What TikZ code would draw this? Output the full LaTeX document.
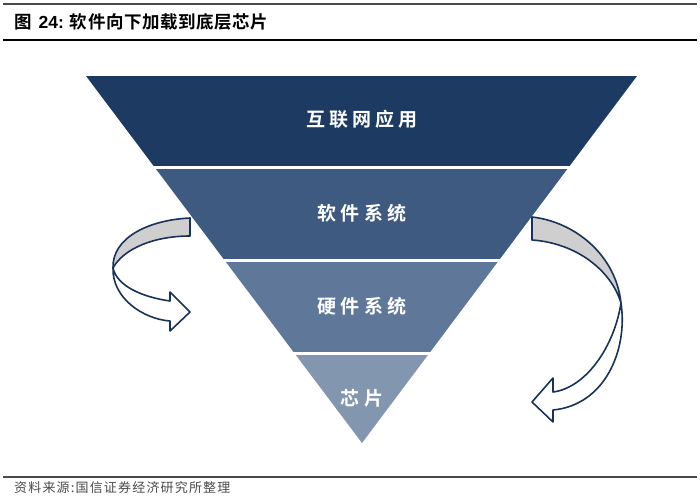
\documentclass[tikz,border=0pt]{standalone}
\usepackage{fontspec}
\newfontfamily\cjkb[LetterSpace=3]{Noto Sans CJK SC Bold}
\newfontfamily\cjkl[LetterSpace=22]{Noto Sans CJK SC Bold}
\newfontfamily\cjkf[LetterSpace=9]{Noto Sans CJK SC}
\newfontfamily\arialb{Liberation Sans Bold}
\definecolor{bandA}{HTML}{1C3A62}
\definecolor{bandB}{HTML}{3E5A80}
\definecolor{bandC}{HTML}{5F7798}
\definecolor{bandD}{HTML}{8396AF}
\definecolor{arrowline}{HTML}{17325B}
\definecolor{arrowgray}{HTML}{CFCFCF}
\definecolor{rulegray}{HTML}{4A4A4A}
\tikzset{
  bandlabel/.style={text=white, font=\cjkl\fontsize{19}{19}\selectfont, inner sep=0pt, anchor=center},
  arrowpart/.style={draw=arrowline, line width=1.6pt, line join=round},
  rulestyle/.style={line width=1.6pt}
}
\begin{document}
\begin{tikzpicture}[x=1pt,y=-1pt]
\useasboundingbox (0,0) rectangle (700,498);
% rules
\coordinate (r1a) at (3,4); \coordinate (r1b) at (697,4);
\coordinate (r2a) at (3,40); \coordinate (r2b) at (697,40);
\coordinate (r3a) at (3,477); \coordinate (r3b) at (697,477);
\draw[rulestyle, rulegray] (r1a) -- (r1b);
\draw[rulestyle, black] (r2a) -- (r2b);
\draw[rulestyle, rulegray] (r3a) -- (r3b);
% title
\node[anchor=west, inner sep=0pt] (title) at (14,22)
  {\fontsize{17.5}{17.5}\selectfont\cjkb 图\hspace{7pt}{\arialb 24:}\hspace{6pt}软件向下加载到底层芯片};
% footer
\node[anchor=west, inner sep=0pt, text=rulegray] (footer) at (14,488)
  {\fontsize{13}{13}\selectfont\cjkf 资料来源:国信证券经济研究所整理};
% pyramid
\begin{scope}
  \clip (86,76) -- (637,76) -- (362,443) -- cycle;
  \fill[bandA] (0,76) rectangle (700,166);
  \fill[bandB] (0,169) rectangle (700,259);
  \fill[bandC] (0,262) rectangle (700,352);
  \fill[bandD] (0,355) rectangle (700,445);
\end{scope}
\node[bandlabel] (l1) at (362,119) {互联网应用};
\node[bandlabel] (l2) at (362,213) {软件系统};
\node[bandlabel] (l3) at (362,306) {硬件系统};
\node[bandlabel] (l4) at (362,398) {芯片};
% left curved arrow
\draw[arrowpart, fill=white] (113,268) .. controls (112,298) and (143,319) .. (170,321)
  -- (170,331) -- (190,312) -- (170,292) -- (170,301)
  .. controls (142,297) and (117,286) .. (113,268) -- cycle;
\draw[arrowpart, fill=arrowgray] (190,218) .. controls (148,220) and (112,238) .. (113,268)
  .. controls (124,248) and (155,236) .. (190,236) -- cycle;
% right curved arrow
\draw[arrowpart, fill=white] (621,303) .. controls (628,350) and (605,405) .. (553,410)
  -- (553,422) -- (532,402) -- (553,378) -- (553,392)
  .. controls (585,388) and (614,348) .. (621,303) -- cycle;
\draw[arrowpart, fill=arrowgray] (532,217) .. controls (576,222) and (616,256) .. (621,303)
  .. controls (611,270) and (576,243) .. (532,240) -- cycle;
\end{tikzpicture}
\end{document}
